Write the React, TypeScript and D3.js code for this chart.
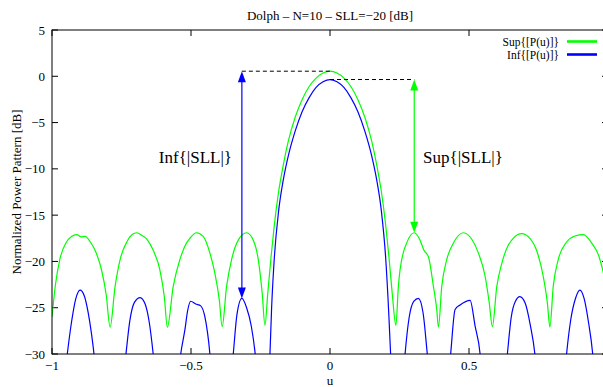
import React from "react";
import * as d3 from "d3";

// Upper bound of the power pattern (dB) sampled along u
const supU = [
  -1.0, -0.988, -0.972, -0.95, -0.93, -0.911, -0.895, -0.881, -0.862, -0.842, -0.822, -0.805, -0.791,
  -0.773, -0.755, -0.731, -0.712, -0.695, -0.676, -0.659, -0.636, -0.612, -0.596, -0.585,
  -0.564, -0.54, -0.516, -0.504, -0.48, -0.456, -0.432, -0.414, -0.398, -0.388,
  -0.372, -0.354, -0.33, -0.3, -0.276, -0.258, -0.244, -0.234,
  -0.224, -0.212, -0.2, -0.185, -0.17, -0.15, -0.125, -0.1, -0.075, -0.05, -0.025, 0,
  0.025, 0.05, 0.075, 0.1, 0.125, 0.15, 0.17, 0.185, 0.2, 0.212, 0.224, 0.237,
  0.246, 0.252, 0.276, 0.303, 0.324, 0.338, 0.354, 0.372, 0.384, 0.39,
  0.402, 0.42, 0.444, 0.48, 0.51, 0.534, 0.558, 0.573, 0.584,
  0.6, 0.618, 0.642, 0.659, 0.689, 0.719, 0.743, 0.767, 0.782, 0.791,
  0.803, 0.821, 0.851, 0.881, 0.911, 0.941, 0.971, 0.99, 1.0,
];
const supDb = [
  -26.0, -22.6, -19.8, -18.0, -17.3, -17.1, -17.35, -17.3, -17.9, -19.0, -20.9, -23.6, -27.1,
  -22.7, -19.8, -17.9, -17.1, -16.9, -17.2, -17.6, -18.8, -20.9, -23.8, -27.1,
  -22.7, -19.8, -18.0, -17.5, -16.9, -17.3, -19.1, -21.3, -24.2, -27.05,
  -22.7, -19.8, -17.7, -16.9, -17.7, -19.8, -23.4, -26.9,
  -23.5, -19.5, -16.0, -12.5, -9.9, -7.0, -4.4, -2.5, -1.1, -0.2, 0.35, 0.55,
  0.35, -0.2, -1.1, -2.5, -4.4, -7.0, -9.9, -12.5, -16.0, -19.5, -23.5, -26.9,
  -22.7, -20.9, -18.0, -16.9, -17.7, -18.8, -19.5, -22.7, -25.2, -27.1,
  -22.7, -19.8, -18.0, -16.9, -17.6, -19.1, -21.6, -24.5, -27.05,
  -22.7, -20.2, -18.2, -17.5, -17.0, -17.5, -18.8, -21.6, -24.5, -27.1,
  -22.7, -19.8, -17.9, -17.25, -17.1, -18.0, -19.8, -22.6, -26.0,
];

// Lower bound of the power pattern (dB) sampled along u
const infU = [
  -1.0, -0.96, -0.945, -0.93, -0.915, -0.899, -0.884, -0.87, -0.858, -0.849, -0.84,
  -0.79, -0.745, -0.734, -0.72, -0.703, -0.683, -0.665, -0.65, -0.636, -0.626,
  -0.585, -0.548, -0.537, -0.522, -0.512, -0.501, -0.483, -0.465, -0.45, -0.432, -0.424,
  -0.388, -0.358, -0.348, -0.335, -0.317, -0.3, -0.283, -0.269, -0.26,
  -0.235, -0.224, -0.216, -0.21, -0.2, -0.185, -0.168, -0.15, -0.125, -0.1, -0.075, -0.05, -0.025, 0,
  0.025, 0.05, 0.075, 0.1, 0.125, 0.15, 0.168, 0.185, 0.2, 0.212, 0.218, 0.226,
  0.237, 0.262, 0.27, 0.285, 0.302, 0.318, 0.335, 0.35, 0.36,
  0.39, 0.425, 0.434, 0.45, 0.468, 0.504, 0.522, 0.54, 0.548,
  0.584, 0.628, 0.638, 0.652, 0.667, 0.683, 0.702, 0.72, 0.737, 0.746,
  0.79, 0.842, 0.851, 0.866, 0.883, 0.899, 0.914, 0.93, 0.945, 0.955, 1.0,
];
const infDb = [
  -40, -34, -30, -26.6, -24.1, -23.1, -23.7, -25.5, -27.8, -30, -33,
  -40, -33, -30, -26.4, -24.4, -23.9, -24.6, -26.6, -30, -33,
  -40, -33, -30, -27.4, -25.3, -24.3, -24.6, -24.8, -26.0, -30, -33,
  -40, -33, -30, -25.8, -24.0, -25.0, -27.0, -30, -33,
  -40, -34, -30, -25.0, -19.5, -14.6, -11.2, -8.6, -5.9, -3.8, -2.3, -1.2, -0.6, -0.35,
  -0.6, -1.2, -2.3, -3.8, -5.9, -8.6, -11.2, -14.6, -19.5, -26.0, -30, -34,
  -40, -33, -30, -26.0, -24.3, -24.0, -25.6, -30, -33,
  -40, -33, -30, -25.2, -24.7, -24.2, -27.0, -30, -33,
  -40, -33, -30, -26.0, -24.3, -23.8, -24.5, -26.8, -30, -33,
  -40, -33, -30, -26.3, -24.0, -23.1, -24.0, -26.6, -30, -34, -40,
];

// Ticks on u; the tick at u = 1 sits on the right border, past the drawing
const xTicks = [-1, -0.5, 0, 0.5, 1];
const xTickLabels = ["\u22121", "\u22120.5", "0", "0.5", ""];
const yTicks = [5, 0, -5, -10, -15, -20, -25, -30];
const yTickLabels = ["5", "0", "\u22125", "\u221210", "\u221215", "\u221220", "\u221225", "\u221230"];

const seriesNames = ["Sup{[P(u)]}", "Inf{[P(u)]}"];
const seriesColors = ["#00ff00", "#0000ff"];

const W = 603;
const H = 387;
const margin = { left: 52, top: 30, width: 556, height: 324 };
const FONT = "'Liberation Serif', 'Times New Roman', serif";

export default function App() {
  const x = d3.scaleLinear().domain([-1, 1]).range([margin.left, margin.left + margin.width]);
  const y = d3.scaleLinear().domain([-30, 5]).range([margin.top + margin.height, margin.top]);

  const line = d3
    .line<[number, number]>()
    .x((d) => x(d[0]))
    .y((d) => y(d[1]))
    .curve(d3.curveMonotoneX);

  const supPts = supU.map((u, i) => [u, supDb[i]] as [number, number]);
  const infPts = infU.map((u, i) => [u, infDb[i]] as [number, number]);

  // Reference levels for the two SLL annotations
  const supPeak = d3.max(supDb) as number;
  const infPeak = d3.max(infDb) as number;
  const infSideIdx = infU.indexOf(-0.317);
  const supSideIdx = supU.indexOf(0.303);
  const infSide: [number, number] = [infU[infSideIdx], infDb[infSideIdx]];
  const supSide: [number, number] = [supU[supSideIdx], supDb[supSideIdx]];

  const x0 = margin.left;
  const x1 = margin.left + margin.width;
  const yTop = margin.top;
  const yBot = margin.top + margin.height;
  const tick = 6;

  const arrowHead = (ax: number, ay: number, dir: number, color: string) => {
    const len = 11;
    const hw = 4;
    return (
      <polygon
        points={`${ax},${ay} ${ax - hw},${ay + dir * len} ${ax + hw},${ay + dir * len}`}
        fill={color}
      />
    );
  };

  const bx = x(infSide[0]);
  const bTop = y(supPeak);
  const bBot = y(infSide[1]);
  const gx = x(supSide[0]);
  const gTop = y(infPeak);
  const gBot = y(supSide[1]);

  return (
    <svg
      width={W}
      height={H}
      style={{ position: "absolute", left: 0, top: 0, background: "#fff" }}
      fontFamily={FONT}
    >
      <defs>
        <clipPath id="plotArea">
          <rect x={x0} y={yTop} width={margin.width} height={margin.height} />
        </clipPath>
      </defs>

      <text x={330} y={20} fontSize={13} textAnchor="middle">
        Dolph – N=10 – SLL=−20 [dB]
      </text>

      {/* ticks */}
      {xTicks.map((t, i) => (
        <g key={"xt" + i}>
          <line x1={x(t)} x2={x(t)} y1={yBot} y2={yBot - tick} stroke="#000" />
          <line x1={x(t)} x2={x(t)} y1={yTop} y2={yTop + tick} stroke="#000" />
          {xTickLabels[i] && (
            <text x={x(t)} y={370} fontSize={13} textAnchor="middle">
              {xTickLabels[i]}
            </text>
          )}
        </g>
      ))}
      {yTicks.map((t, i) => (
        <g key={"yt" + i}>
          <line x1={x0} x2={x0 + tick} y1={y(t)} y2={y(t)} stroke="#000" />
          <line x1={x1} x2={x1 - tick} y1={y(t)} y2={y(t)} stroke="#000" />
          <text x={45} y={y(t) + 4.5} fontSize={13} textAnchor="end">
            {yTickLabels[i]}
          </text>
        </g>
      ))}

      <text x={330} y={385} fontSize={13} textAnchor="middle">
        u
      </text>
      <text
        transform={`translate(21,${(yTop + yBot) / 2}) rotate(-90)`}
        fontSize={13}
        textAnchor="middle"
      >
        Normalized Power Pattern [dB]
      </text>

      {/* curves */}
      <g clipPath="url(#plotArea)">
        <path d={line(supPts) ?? ""} fill="none" stroke={seriesColors[0]} strokeWidth={1.2} />
        <path d={line(infPts) ?? ""} fill="none" stroke={seriesColors[1]} strokeWidth={1.2} />
      </g>

      {/* annotations */}
      <line x1={bx} x2={x(0)} y1={bTop} y2={bTop} stroke="#000" strokeDasharray="4,3" />
      <line x1={x(0)} x2={gx} y1={gTop} y2={gTop} stroke="#000" strokeDasharray="4,3" />
      <line x1={bx} x2={bx} y1={bTop + 8} y2={bBot - 8} stroke={seriesColors[1]} strokeWidth={1.2} />
      {arrowHead(bx, bTop, 1, seriesColors[1])}
      {arrowHead(bx, bBot, -1, seriesColors[1])}
      <line x1={gx} x2={gx} y1={gTop + 8} y2={gBot - 8} stroke={seriesColors[0]} strokeWidth={1.2} />
      {arrowHead(gx, gTop, 1, seriesColors[0])}
      {arrowHead(gx, gBot, -1, seriesColors[0])}
      <text x={232} y={163} fontSize={17} textAnchor="end">
        Inf{"{"}|SLL|{"}"}
      </text>
      <text x={423} y={163} fontSize={17} textAnchor="start">
        Sup{"{"}|SLL|{"}"}
      </text>

      {/* legend */}
      {seriesNames.map((n, i) => (
        <g key={"lg" + i}>
          <text x={559} y={45.5 + i * 13} fontSize={11.5} textAnchor="end">
            {n}
          </text>
          <line
            x1={567}
            x2={597}
            y1={41.5 + i * 13}
            y2={41.5 + i * 13}
            stroke={seriesColors[i]}
            strokeWidth={2.6}
          />
        </g>
      ))}

      {/* frame */}
      <rect x={x0} y={yTop} width={margin.width} height={margin.height} fill="none" stroke="#000" />
    </svg>
  );
}
